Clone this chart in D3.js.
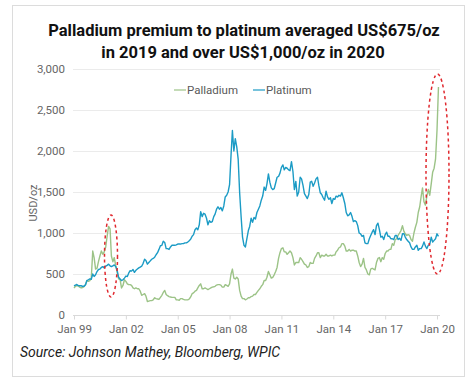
<!DOCTYPE html>
<html>
<head>
<meta charset="utf-8">
<script src="https://cdn.jsdelivr.net/npm/d3@7"></script>
<style>
  body { margin: 0; background: #fff; }
  text { font-family: Roboto, "Noto Sans", sans-serif; }
</style>
</head>
<body>
<div id="chart"></div>
<script>
// monthly values, Jan 1999 .. Feb 2020 (USD/oz)
var palladium = [
  330, 350, 360, 355, 340, 330, 335, 345, 370, 420, 410, 420,
  450, 780, 700, 560, 570, 650, 720, 780, 740, 770, 830, 960,
  1080, 1050, 720, 650, 700, 600, 520, 440, 430, 330, 360, 430,
  410, 380, 370, 370, 360, 330, 320, 330, 320, 320, 290, 240,
  250, 260, 230, 165, 170, 175, 175, 185, 210, 200, 195, 190,
  215, 240, 275, 300, 250, 235, 225, 220, 215, 215, 215, 185,
  185, 180, 200, 200, 190, 185, 185, 185, 195, 220, 260, 270,
  290, 300, 330, 360, 380, 320, 320, 330, 320, 310, 320, 330,
  340, 345, 350, 365, 370, 370, 365, 340, 340, 370, 360, 350,
  380, 500, 560, 450, 440, 460, 440, 300, 230, 200, 200, 185,
  195, 210, 210, 225, 230, 250, 250, 275, 300, 320, 350, 370,
  420, 420, 460, 530, 490, 450, 460, 490, 530, 580, 690, 760,
  810, 820, 770, 770, 740, 760, 780, 760, 700, 610, 640, 640,
  640, 700, 680, 650, 620, 610, 580, 590, 640, 630, 630, 690,
  720, 760, 760, 700, 730, 720, 720, 740, 720, 720, 730, 720,
  730, 730, 770, 790, 820, 830, 870, 870, 840, 780, 780, 800,
  780, 790, 790, 780, 780, 720, 640, 590, 620, 690, 580, 550,
  500, 490, 560, 570, 560, 550, 640, 690, 700, 650, 700, 680,
  750, 780, 780, 800, 800, 870, 850, 920, 930, 970, 1000, 1030,
  1090, 1020, 990, 970, 980, 970, 920, 900, 1000, 1070, 1130, 1250,
  1320, 1450, 1550, 1380, 1340, 1450, 1530, 1460, 1600, 1740, 1790, 1900,
  2250, 2780
];

var platinum = [
  355, 365, 372, 358, 356, 357, 350, 350, 370, 420, 430, 440,
  435, 500, 470, 490, 530, 555, 560, 580, 590, 575, 595, 605,
  620, 600, 590, 600, 610, 590, 545, 460, 440, 420, 430, 450,
  475, 470, 510, 540, 535, 555, 520, 545, 560, 575, 585, 595,
  630, 680, 665, 620, 640, 660, 680, 690, 705, 735, 760, 800,
  845, 850, 900, 885, 810, 810, 800, 830, 850, 850, 850, 855,
  865, 865, 865, 870, 870, 880, 880, 890, 905, 925, 960, 980,
  1040, 1060, 1040, 1100, 1260, 1200, 1240, 1230, 1180, 1100, 1150, 1130,
  1140, 1200, 1230, 1290, 1320, 1290, 1310, 1270, 1330, 1440, 1460, 1500,
  1590, 1950, 2250, 2000, 2150, 2050, 1900, 1490, 1200, 950, 850, 830,
  930, 1030, 1080, 1180, 1130, 1190, 1170, 1250, 1290, 1330, 1400, 1450,
  1560, 1520, 1600, 1720, 1620, 1550, 1530, 1540, 1610, 1680, 1690, 1730,
  1800, 1830, 1770, 1800, 1790, 1770, 1760, 1870, 1750, 1530, 1630, 1450,
  1500, 1680, 1660, 1580, 1480, 1450, 1420, 1470, 1620, 1630, 1570, 1610,
  1660, 1680, 1580, 1490, 1470, 1430, 1400, 1510, 1440, 1410, 1430, 1360,
  1420, 1410, 1450, 1440, 1460, 1450, 1490, 1430, 1360, 1250, 1210, 1220,
  1250, 1200, 1140, 1150, 1140, 1090, 1000, 990, 960, 970, 880, 870,
  870, 930, 970, 1010, 1040, 980, 1090, 1120, 1040, 950, 960, 920,
  980, 1010, 960, 960, 930, 930, 920, 970, 970, 920, 935, 910,
  990, 990, 950, 920, 900, 880, 830, 800, 800, 830, 850, 790,
  810, 810, 840, 890, 840, 810, 850, 860, 950, 890, 910, 930,
  990, 960
];

var yTicks = [0, 500, 1000, 1500, 2000, 2500, 3000];
var xTickYears = [1999, 2002, 2005, 2008, 2011, 2014, 2017, 2020];
var seriesNames = ["Palladium", "Platinum"];
var seriesColors = ["#9cc387", "#1b9bc5"];

var months = d3.timeMonth.range(new Date(1999, 0, 1), new Date(2020, 2, 1));

var width = 475, height = 386;

var svg = d3.select("#chart").append("svg")
  .attr("width", width)
  .attr("height", height);

// card frame
svg.append("rect")
  .attr("x", 12.5).attr("y", 5.5)
  .attr("width", 452).attr("height", 371)
  .attr("fill", "#fff")
  .attr("stroke", "#dcdcdc");

// title
var title = svg.append("text")
  .attr("text-anchor", "middle")
  .attr("font-size", "16.5px")
  .attr("font-weight", "bold")
  .attr("fill", "#111");
title.append("tspan").attr("x", 244).attr("y", 36)
  .text("Palladium premium to platinum averaged US$675/oz");
title.append("tspan").attr("x", 243).attr("y", 58)
  .text("in 2019 and over US$1,000/oz in 2020");

var x = d3.scaleTime()
  .domain([new Date(1999, 0, 1), new Date(2020, 0, 1)])
  .range([74, 437]);

var y = d3.scaleLinear()
  .domain([0, 3000])
  .range([315, 69]);

// gridlines + y labels
svg.append("g").selectAll("line")
  .data(yTicks.filter(function (d) { return d > 0; }))
  .enter().append("line")
  .attr("x1", 73).attr("x2", 440)
  .attr("y1", function (d) { return y(d) + 0.5; })
  .attr("y2", function (d) { return y(d) + 0.5; })
  .attr("stroke", "#ebebeb");

svg.append("g").selectAll("text")
  .data(yTicks)
  .enter().append("text")
  .attr("x", 65)
  .attr("y", function (d) { return y(d); })
  .attr("dy", "0.35em")
  .attr("text-anchor", "end")
  .attr("font-size", "11.5px")
  .attr("fill", "#666")
  .text(d3.format(","));

svg.append("text")
  .attr("transform", "translate(37,203) rotate(-90)")
  .attr("text-anchor", "middle")
  .attr("font-size", "11px")
  .attr("fill", "#666")
  .text("USD/oz");

// x axis
var xAxis = d3.axisBottom(x)
  .tickValues(xTickYears.map(function (yr) { return new Date(yr, 0, 1); }))
  .tickFormat(d3.timeFormat("Jan %y"))
  .tickSizeOuter(0)
  .tickSize(4);

var gx = svg.append("g")
  .attr("transform", "translate(0," + (y(0) + 0.5) + ")")
  .call(xAxis);
gx.select(".domain").attr("stroke", "#d9d9d9").attr("d", "M73,0H440");
gx.selectAll(".tick line").attr("stroke", "#d9d9d9");
gx.selectAll(".tick text")
  .attr("font-family", "Roboto, sans-serif")
  .attr("font-size", "11.5px")
  .attr("fill", "#666")
  .attr("dy", "0.9em");

// lines
var line = d3.line()
  .x(function (d, i) { return x(months[i]); })
  .y(function (d) { return y(d); });

[palladium, platinum].forEach(function (s, i) {
  svg.append("path")
    .datum(s)
    .attr("d", line)
    .attr("fill", "none")
    .attr("stroke", seriesColors[i])
    .attr("stroke-width", 1.4)
    .attr("stroke-linejoin", "round");
});

// legend
var legendX = [174, 253];
seriesNames.forEach(function (name, i) {
  var g = svg.append("g").attr("transform", "translate(" + legendX[i] + ",90)");
  g.append("line").attr("x1", 0).attr("x2", 12)
    .attr("stroke", seriesColors[i]).attr("stroke-width", 1.2);
  g.append("text").attr("x", 13).attr("dy", "0.35em")
    .attr("font-size", "11.5px").attr("fill", "#595959")
    .text(name);
});

// highlight ellipses
var rings = [
  { cx: 111, cy: 256, rx: 6.5, ry: 41 },
  { cx: 437.5, cy: 174, rx: 11.5, ry: 100 }
];
svg.append("g").selectAll("ellipse")
  .data(rings)
  .enter().append("ellipse")
  .attr("cx", function (d) { return d.cx; })
  .attr("cy", function (d) { return d.cy; })
  .attr("rx", function (d) { return d.rx; })
  .attr("ry", function (d) { return d.ry; })
  .attr("fill", "none")
  .attr("stroke", "#e0282e")
  .attr("stroke-width", 1.5)
  .attr("stroke-dasharray", "3,3");

// source
svg.append("text")
  .attr("x", 20).attr("y", 357)
  .attr("font-size", "14px")
  .attr("font-style", "italic")
  .attr("fill", "#222")
  .text("Source: Johnson Mathey, Bloomberg, WPIC");
</script>
</body>
</html>
